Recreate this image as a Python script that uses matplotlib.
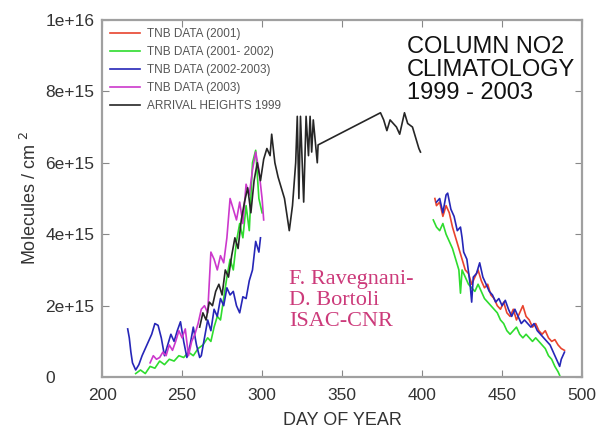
import matplotlib
matplotlib.use("Agg")
import matplotlib.pyplot as plt
import numpy as np

# TNB 2001 (red) - summer part only
red_day = [408, 409, 411, 413, 415, 417, 419, 421, 423, 425, 427, 429, 431, 433, 435, 437,
           439, 441, 443, 445, 447, 449, 451, 453, 455, 457, 459, 461, 463, 465, 467, 469,
           471, 473, 475, 477, 479, 481, 483, 485, 487, 489]
red_val = [5.0, 4.8, 4.9, 4.5, 4.8, 4.6, 4.2, 3.9, 3.6, 3.3, 3.0, 2.9, 2.6, 2.8, 3.0, 2.7,
           2.5, 2.6, 2.3, 2.2, 2.0, 1.9, 2.1, 1.8, 1.7, 1.9, 1.6, 1.8, 2.0, 1.7, 1.6, 1.4,
           1.5, 1.3, 1.2, 1.3, 1.1, 1.0, 1.05, 0.9, 0.8, 0.75]

# TNB 2001-2002 (green)
green_day = [221, 224, 227, 230, 233, 236, 239, 242, 245, 248, 251, 254, 257, 260, 263, 266,
             268, 270, 272, 274, 276, 278, 280, 282, 284, 286, 288, 290, 292, 294, 296, 298, 300,
             np.nan,
             407, 409, 411, 413, 415, 417, 419, 421, 423, 424, 425, 427, 429, 431, 433, 435,
             437, 439, 441, 443, 445, 447, 449, 451, 453, 455, 457, 459, 461, 463, 465, 467,
             469, 471, 473, 475, 477, 479, 481, 483, 485, 486]
green_val = [0.1, 0.2, 0.1, 0.3, 0.25, 0.45, 0.35, 0.5, 0.45, 0.6, 0.55, 0.7, 0.6, 0.8, 0.9, 1.1,
             1.0, 1.4, 1.7, 1.6, 2.2, 2.8, 3.3, 3.0, 3.8, 4.3, 3.9, 4.8, 4.1, 6.0, 6.35, 5.0, 4.6,
             np.nan,
             4.4, 4.2, 4.1, 4.3, 4.0, 3.8, 3.6, 3.3, 3.0, 2.35, 3.0, 2.8, 2.6, 2.5, 2.4, 2.6,
             2.4, 2.2, 2.1, 2.0, 1.9, 1.8, 1.6, 1.5, 1.3, 1.2, 1.3, 1.4, 1.2, 1.1, 1.2, 1.1,
             1.0, 1.1, 1.0, 0.9, 0.8, 0.6, 0.5, 0.3, 0.15, 0.05]

# TNB 2002-2003 (blue)
blue_day = [216, 217, 218, 219, 221, 223, 225, 228, 231, 233, 235, 237, 239, 241, 243, 245,
            247, 249, 251, 253, 255, 257, 259, 261, 262, 264, 266, 268, 270, 272, 274, 276,
            278, 280, 282, 284, 286, 288, 290, 292, 294, 296, 298, 299,
            np.nan,
            409, 411, 413, 415, 416, 418, 420, 422, 424, 425, 426, 428, 430, 431, 432, 434,
            436, 438, 440, 442, 444, 446, 448, 450, 452, 454, 456, 458, 460, 462, 464, 466,
            468, 470, 472, 474, 476, 478, 480, 482, 484, 486, 487, 489]
blue_val = [1.35, 1.1, 0.7, 0.4, 0.2, 0.35, 0.6, 0.9, 1.2, 1.5, 1.45, 1.1, 0.6, 0.9, 1.2, 1.0,
            1.3, 1.55, 1.0, 0.55, 0.9, 1.4, 0.9, 0.55, 0.6, 1.1, 1.6, 1.3, 1.9, 1.7, 2.2, 2.0,
            2.5, 2.3, 2.4, 2.0, 1.8, 2.25, 2.2, 2.7, 3.0, 3.8, 3.5, 3.9,
            np.nan,
            4.9, 5.0, 4.6, 5.1, 5.15, 4.7, 4.5, 4.1, 4.2, 3.9, 3.5, 3.3, 2.6, 2.1, 2.8, 2.9,
            3.2, 2.8, 2.6, 2.4, 2.3, 2.1, 2.2, 2.0, 2.15, 1.9, 1.7, 1.9, 1.7, 1.5, 1.6, 1.5,
            1.4, 1.5, 1.3, 1.2, 1.1, 1.0, 0.9, 0.7, 0.5, 0.3, 0.5, 0.7]

# TNB 2003 (magenta)
mag_day = [230, 232, 234, 236, 238, 240, 242, 244, 246, 248, 250, 252, 254, 256, 258, 260,
           262, 264, 266, 268, 270, 272, 274, 276, 278, 280, 282, 284, 286, 288, 290, 292,
           294, 296, 298, 300, 301]
mag_val = [0.4, 0.6, 0.5, 0.55, 0.7, 0.6, 0.9, 0.75, 1.0, 1.3, 1.1, 1.35, 0.6, 1.0, 1.2, 1.5,
           1.9, 2.0, 1.8, 3.5, 3.3, 3.0, 3.4, 3.2, 3.9, 5.0, 4.7, 4.4, 4.9, 4.3, 5.4, 5.1,
           5.8, 6.3, 5.8, 5.0, 4.4]

# Arrival Heights 1999 (black)
ah_day = [261, 263, 265, 267, 269, 271, 273, 275, 277, 279, 281, 283, 285, 287, 289, 291,
          293, 295, 297, 299, 301, 303, 305, 306, 308, 310, 312, 314, 316, 317, 319, 321,
          322, 323, 324, 326, 327.5, 329, 330, 331, 332, 334.5, 335,
          374, 376, 378, 380, 382, 384, 386, 388, 389, 391, 394, 396, 398, 399]
ah_val = [1.4, 1.8, 1.6, 2.1, 2.0, 2.4, 2.6, 2.3, 3.0, 2.8, 3.4, 3.9, 3.6, 4.4, 4.9, 5.3,
          4.6, 5.5, 6.0, 5.5, 6.1, 6.4, 6.2, 6.8, 6.0, 5.6, 5.3, 5.0, 4.4, 4.1, 4.8, 6.0,
          7.3, 5.0, 7.3, 4.9, 7.3, 6.2, 7.3, 6.3, 7.2, 6.0, 6.5,
          7.4, 7.2, 6.9, 7.2, 7.1, 7.0, 6.8, 7.2, 7.4, 7.1, 7.0, 6.7, 6.4, 6.3]

series = [
    (red_day, red_val, "#e8432e", "TNB DATA (2001)"),
    (green_day, green_val, "#2edc2e", "TNB DATA (2001- 2002)"),
    (blue_day, blue_val, "#2626b8", "TNB DATA (2002-2003)"),
    (mag_day, mag_val, "#cc38cc", "TNB DATA (2003)"),
    (ah_day, ah_val, "#262626", "ARRIVAL HEIGHTS 1999"),
]

yticks = [0, 2e15, 4e15, 6e15, 8e15, 1e16]
ytick_labels = ["0", "2e+15", "4e+15", "6e+15", "8e+15", "1e+16"]
xticks = [200, 250, 300, 350, 400, 450, 500]

plt.rcParams['font.family'] = ['Liberation Sans', 'DejaVu Sans']

fig = plt.figure(figsize=(5.97, 4.32), dpi=100)
ax = fig.add_axes([0.171, 0.127, 0.804, 0.827])

for d, v, c, lab in series:
    ax.plot(d, np.array(v) * 1e15, color=c, lw=1.2, label=lab)

ax.set_xlim(200, 500)
ax.set_ylim(0, 1e16)
ax.set_xticks(xticks)
ax.set_yticks(yticks)
ax.set_yticklabels(ytick_labels)
ax.tick_params(direction='in', length=5, color='#888888', labelsize=12.5,
               top=True, right=True, labelcolor='#333333')
ax.tick_params(axis='y', pad=41)
ax.tick_params(axis='x', pad=8)
for t in ax.get_yticklabels():
    t.set_horizontalalignment('left')
for s in ax.spines.values():
    s.set_color('#a0a0a0')
    s.set_linewidth(1.6)

ax.set_xlabel("DAY OF YEAR", fontsize=13, color='#333333', labelpad=6)
ax.set_ylabel("Molecules / cm $^{2}$", fontsize=13, color='#333333', labelpad=4)

leg = ax.legend(loc='upper left', frameon=False, fontsize=8.5, handlelength=2.5,
                labelspacing=0.5, borderaxespad=0.3, handletextpad=0.6)
for t in leg.get_texts():
    t.set_color('#555555')

ax.text(0.635, 0.955, "COLUMN NO2\nCLIMATOLOGY\n1999 - 2003", transform=ax.transAxes,
        fontsize=17, va='top', ha='left', color='#111111', linespacing=1.05)

ax.text(0.39, 0.30, "F. Ravegnani-\nD. Bortoli\nISAC-CNR", transform=ax.transAxes,
        fontsize=16, family='Liberation Serif', color='#cc3a7a', va='top', ha='left',
        linespacing=1.15)

fig.savefig("out.png", dpi=100)
